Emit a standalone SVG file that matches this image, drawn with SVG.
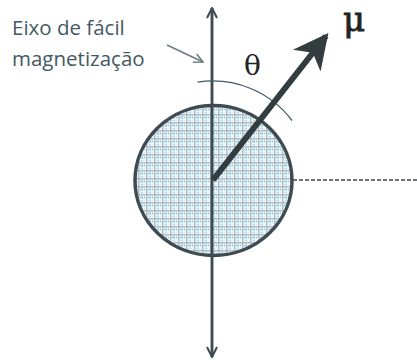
<svg xmlns="http://www.w3.org/2000/svg" width="417" height="360" viewBox="0 0 417 360">
<defs>
<style>
.ax{stroke:#3f4b50;stroke-width:2.5;fill:none}
.lbl{font-family:"Open Sans","Liberation Sans",sans-serif;font-size:20.5px;fill:#44595e}
.greek{font-family:"DejaVu Serif","Liberation Serif",serif;fill:#222}
</style>
<pattern id="grid" width="8" height="8" patternUnits="userSpaceOnUse" x="2" y="2">
<rect width="8" height="8" fill="#ecf5f9"/>
<path d="M0 3.5H8M4 0V8" stroke="#5ab4dc" stroke-width="0.9" stroke-dasharray="1 1"/>
<path d="M0 0.75H8M0.75 0V8" stroke="#b0babf" stroke-width="1.4"/>
</pattern>
<marker id="openV" viewBox="0 0 12 12" refX="11" refY="6" markerWidth="12" markerHeight="12" markerUnits="userSpaceOnUse" orient="auto">
<path d="M1 1L11 6L1 11" fill="none" stroke="#3f4b50" stroke-width="2"/>
</marker>
<marker id="grayV" viewBox="0 0 12 12" refX="11" refY="6" markerWidth="11" markerHeight="11" markerUnits="userSpaceOnUse" orient="auto">
<path d="M1 1L11 6L1 11" fill="none" stroke="#6d8086" stroke-width="1.8"/>
</marker>
<marker id="bigHead" viewBox="0 0 10 10" refX="8" refY="5" markerWidth="6.5" markerHeight="6.5" orient="auto">
<path d="M0 0.5L9 5L0 9.5L2.5 5Z" fill="#333d40"/>
</marker>
</defs>
<rect width="417" height="360" fill="#fff"/>
<g id="particle">
<ellipse cx="213.5" cy="180.5" rx="78.5" ry="75" fill="url(#grid)" stroke="#3f4b50" stroke-width="3.5"/>
</g>
<g id="connectors">
<line class="ax" x1="212" y1="357" x2="212" y2="8" marker-end="url(#openV)"/>
<line class="ax" x1="212" y1="8" x2="212" y2="357" marker-end="url(#openV)"/>
<line x1="293" y1="180" x2="417" y2="180" stroke="#3f4b50" stroke-width="1.5" stroke-dasharray="4 2"/>
<path d="M197.5 82.2A99 99 0 0 1 292 120.5" fill="none" stroke="#3f5a62" stroke-width="1.3"/>
<line x1="213" y1="180" x2="326" y2="36" stroke="#333d40" stroke-width="6" marker-end="url(#bigHead)"/>
<line x1="167" y1="45" x2="203" y2="62" stroke="#6d8086" stroke-width="1.8" marker-end="url(#grayV)"/>
</g>
<g id="label-eixo">
<text class="lbl" x="12" y="35">Eixo de fácil</text>
<text class="lbl" x="12" y="66">magnetização</text>
</g>
<g id="label-theta"><text class="greek" x="244" y="75" font-size="28" font-family="Liberation Serif, serif">θ</text></g>
<g id="label-mu"><text class="greek" x="343" y="31" font-size="34" stroke="#222" stroke-width="0.9">μ</text></g>
</svg>
